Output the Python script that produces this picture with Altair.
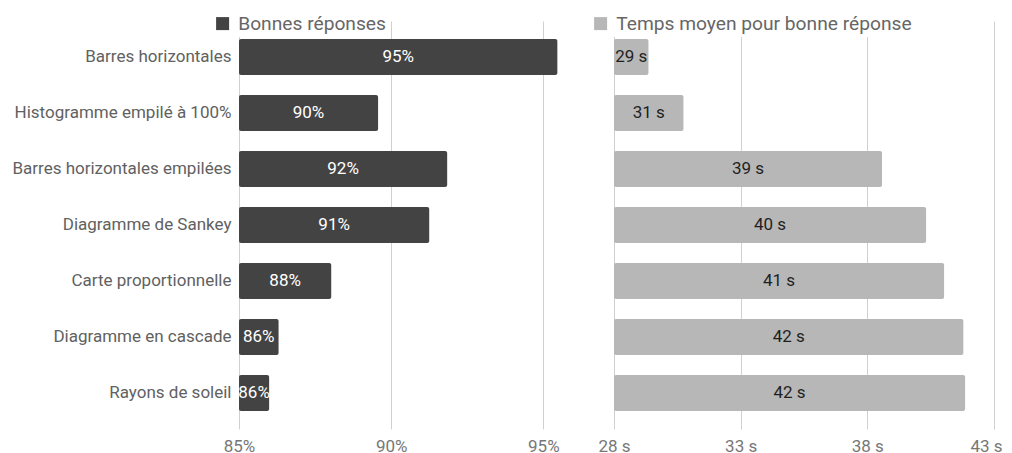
import altair as alt
import pandas as pd

title_text = "Efficacité des représentations pour représenter \"d'où viennent les impacts envi"
categories = [
    "Barres horizontales",
    "Histogramme empilé à 100%",
    "Barres horizontales empilées",
    "Diagramme de Sankey",
    "Carte proportionnelle",
    "Diagramme en cascade",
    "Rayons de soleil",
]
series_names = ["Bonnes réponses", "Temps moyen pour bonne réponse"]
correct = [95.46, 89.57, 91.84, 91.25, 88.03, 86.30, 85.99]
correct_labels = ["95%", "90%", "92%", "91%", "88%", "86%", "86%"]
times = [29.36, 30.74, 38.58, 40.32, 41.03, 41.79, 41.86]
time_labels = ["29 s", "31 s", "39 s", "40 s", "41 s", "42 s", "42 s"]
pct_ticks = [85, 90, 95]
sec_ticks = [28, 33, 38, 43]

FONT = "Roboto"
DARK = "#434343"
LIGHT = "#b7b7b7"

df_left = pd.DataFrame({
    "cat": categories,
    "value": correct,
    "label": correct_labels,
    "series": series_names[0],
})
df_right = pd.DataFrame({
    "cat": categories,
    "value": times,
    "label": time_labels,
    "series": series_names[1],
})

H = 408
yscale = alt.Scale(paddingInner=0.357, paddingOuter=0.32)


def panel(df, base, domain, ticks, color, textcolor, suffix, width, show_y,
          legend_x, last_shift):
    yaxis = alt.Axis(title=None, ticks=False, domain=False, labelFontSize=17,
                     labelColor="#616161", labelPadding=8, labelFont=FONT,
                     labelLimit=400, grid=False) if show_y else None
    xaxis = alt.Axis(title=None, values=ticks, grid=True, gridColor="#d0d0d0",
                     ticks=False, domain=False, labelFontSize=17,
                     labelColor="#777777", labelPadding=9, labelFont=FONT,
                     labelFlush=False,
                     labelOffset={"condition": {"test": "datum.value == %s" % ticks[-1],
                                                "value": last_shift},
                                  "value": 0},
                     labelExpr="datum.value + '" + suffix + "'")
    b = alt.Chart(df).encode(
        y=alt.Y("cat:N", sort=categories, scale=yscale, axis=yaxis),
    )
    bars = b.mark_bar(cornerRadius=2).encode(
        x=alt.X("value:Q", scale=alt.Scale(domain=domain, nice=False, zero=False),
                axis=xaxis),
        x2=alt.datum(base),
        color=alt.Color("series:N",
                        scale=alt.Scale(domain=[df["series"][0]], range=[color]),
                        legend=alt.Legend(orient="none", legendX=legend_x, legendY=-9,
                                          title=None, symbolType="square",
                                          symbolSize=169, symbolStrokeWidth=0,
                                          labelFontSize=19.2, labelColor="#666666",
                                          labelFont=FONT, padding=2, labelOffset=6,
                                          fillColor="white", strokeColor="white",
                                          labelLimit=500)),
    )
    texts = b.transform_calculate(
        mid="(%s + datum.value) / 2" % base
    ).mark_text(font=FONT, fontSize=17, color=textcolor).encode(
        x=alt.X("mid:Q"),
        text="label:N",
    )
    return alt.layer(bars, texts).properties(width=width, height=H)


left = panel(df_left, 85, [85, 96.5], pct_ticks, DARK, "white", "%", 350, True, -28, 0)
right = panel(df_right, 28, [28, 43], sec_ticks, LIGHT, "#1f1f1f", " s", 380, False, -25, -8)

chart = alt.hconcat(left, right, spacing=25, bounds="flush").resolve_scale(
    color="independent"
).resolve_legend(color="independent").properties(
    title=alt.TitleParams(title_text, anchor="start", fontSize=28, font=FONT,
                          fontWeight="normal", color="#757575"),
    padding={"top": -29, "left": 3, "right": 0, "bottom": 0},
).configure_view(stroke=None)

chart.save("out.html", embed_options={"renderer": "svg", "actions": False})
